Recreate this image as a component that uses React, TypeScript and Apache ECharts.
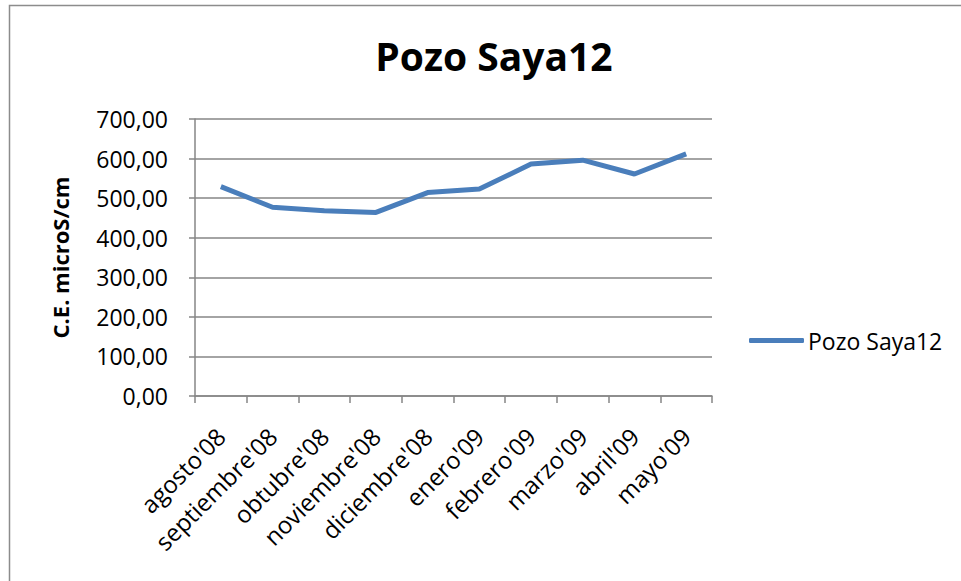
import React, { useEffect, useRef } from "react";
import * as echarts from "echarts";

const categories = [
  "agosto'08",
  "septiembre'08",
  "obtubre'08",
  "noviembre'08",
  "diciembre'08",
  "enero'09",
  "febrero'09",
  "marzo'09",
  "abril'09",
  "mayo'09",
];
const seriesName = "Pozo Saya12";
const values = [529, 477, 468, 464, 514, 523, 586, 596, 561, 612];
const titleText = "Pozo Saya12";
const yAxisName = "C.E. microS/cm";

const FONT = "'Open Sans', 'Noto Sans', sans-serif";

export default function App() {
  const ref = useRef<HTMLDivElement>(null);
  useEffect(() => {
    if (!ref.current) return;
    const chart = echarts.init(ref.current, null, { renderer: "svg" });
    chart.setOption({
      animation: false,
      backgroundColor: "#ffffff",
      title: {
        text: titleText,
        left: 489,
        top: 31,
        textAlign: "center",
        textStyle: { fontFamily: FONT, fontWeight: "bold", fontSize: 39, color: "#000" },
      },
      legend: {
        data: [seriesName],
        left: 744,
        top: 324,
        itemWidth: 55,
        itemHeight: 5,
        itemGap: 4,
        icon: "roundRect",
        textStyle: { fontFamily: FONT, fontSize: 23, color: "#000", padding: [0, 0, 0, -1] },
      },
      graphic: [
        {
          type: "rect",
          shape: { x: 9.5, y: 5.5, width: 960, height: 580 },
          style: { fill: "none", stroke: "#8c8c8c", lineWidth: 1.5 },
          silent: true,
        },
      ],
      grid: { left: 195, right: 249, top: 119, bottom: 185 },
      xAxis: {
        type: "category",
        data: categories,
        boundaryGap: true,
        axisLine: { lineStyle: { color: "#868686", width: 1.5 } },
        axisTick: { show: true, length: 7, lineStyle: { color: "#868686", width: 1.5 } },
        axisLabel: {
          rotate: 45,
          interval: 0,
          margin: 36,
          fontFamily: FONT,
          fontSize: 24,
          color: "#000",
        },
      },
      yAxis: {
        type: "value",
        min: 0,
        max: 700,
        interval: 100,
        name: yAxisName,
        nameLocation: "middle",
        nameGap: 124,
        nameRotate: 90,
        nameTextStyle: { fontFamily: FONT, fontWeight: "bold", fontSize: 22, color: "#000" },
        axisLine: { show: true, lineStyle: { color: "#868686", width: 1.5 } },
        axisTick: { show: true, length: 6, lineStyle: { color: "#868686", width: 1.5 } },
        splitLine: { lineStyle: { color: "#868686", width: 1.5 } },
        axisLabel: {
          margin: 27,
          fontFamily: FONT,
          fontSize: 23,
          color: "#000",
          formatter: (v: number) => v.toFixed(2).replace(".", ","),
        },
      },
      series: [
        {
          name: seriesName,
          type: "line",
          data: values,
          symbol: "none",
          lineStyle: { color: "#4a7ebb", width: 5 },
          itemStyle: { color: "#4a7ebb" },
        },
      ],
    });
    return () => chart.dispose();
  }, []);
  return (
    <div
      ref={ref}
      style={{ position: "fixed", left: 0, top: 0, width: 961, height: 581 }}
    />
  );
}
